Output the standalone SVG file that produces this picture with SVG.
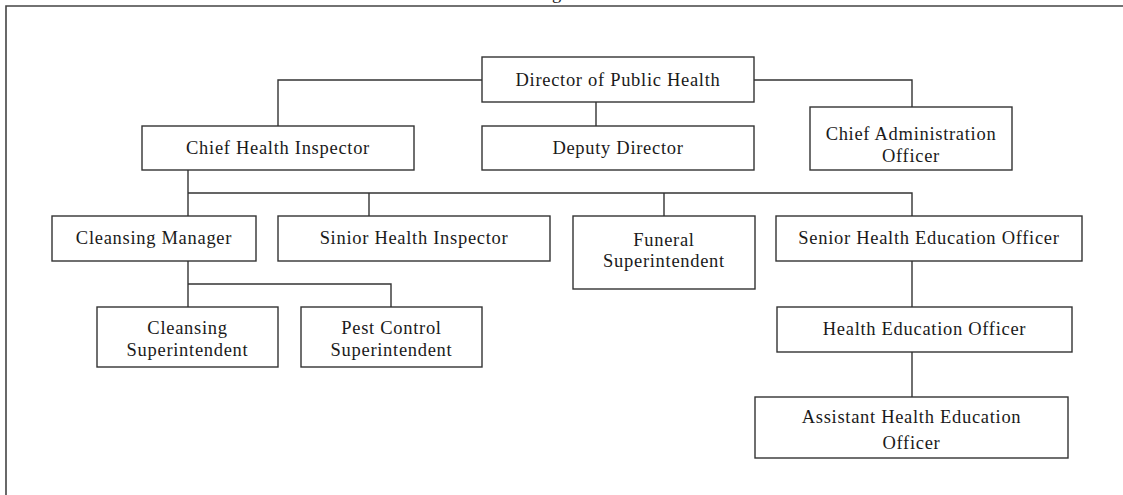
<svg xmlns="http://www.w3.org/2000/svg" width="1123" height="495" viewBox="0 0 1123 495">
  <style>
    .box { fill: #ffffff; stroke: #333333; stroke-width: 1.4; }
    .lbl { font-family: "Liberation Serif", "Times New Roman", serif; font-size: 18.5px; letter-spacing: 0.7px; fill: #1a1a1a; text-anchor: middle; }
    .wire { fill: none; stroke: #333333; stroke-width: 1.4; }
    .frame { fill: none; stroke: #444444; stroke-width: 1.6; }
  </style>
  <rect width="1123" height="495" fill="#ffffff"/>

  <!-- title line, mostly above the page edge -->
  <text class="lbl" x="557" y="-1">g</text>

  <!-- page frame -->
  <path class="frame" d="M6,495 V6 H1123"/>

  <!-- connectors -->
  <g id="connectors">
    <path class="wire" d="M482,80 H278 V126"/>
    <path class="wire" d="M754,80 H912 V107"/>
    <path class="wire" d="M596,102 V126"/>
    <path class="wire" d="M188,170 V216"/>
    <path class="wire" d="M188,193 H912 V216"/>
    <path class="wire" d="M369,193 V216"/>
    <path class="wire" d="M664,193 V216"/>
    <path class="wire" d="M188,261 V307"/>
    <path class="wire" d="M188,284 H391 V307"/>
    <path class="wire" d="M912,261 V307"/>
    <path class="wire" d="M912,352 V397"/>
  </g>

  <g id="director">
    <rect class="box" x="482" y="57" width="272" height="45"/>
    <text class="lbl" x="618" y="86">Director of Public Health</text>
  </g>
  <g id="chief-health-inspector">
    <rect class="box" x="142" y="126" width="272" height="44"/>
    <text class="lbl" x="278" y="154">Chief Health Inspector</text>
  </g>
  <g id="deputy-director">
    <rect class="box" x="482" y="126" width="272" height="44"/>
    <text class="lbl" x="618" y="154">Deputy Director</text>
  </g>
  <g id="chief-administration-officer">
    <rect class="box" x="810" y="107" width="202" height="63"/>
    <text class="lbl" x="911" y="140">Chief Administration</text>
    <text class="lbl" x="911" y="162">Officer</text>
  </g>
  <g id="cleansing-manager">
    <rect class="box" x="52" y="216" width="204" height="45"/>
    <text class="lbl" x="154" y="244">Cleansing Manager</text>
  </g>
  <g id="sinior-health-inspector">
    <rect class="box" x="278" y="216" width="272" height="45"/>
    <text class="lbl" x="414" y="244">Sinior Health Inspector</text>
  </g>
  <g id="funeral-superintendent">
    <rect class="box" x="573" y="216" width="182" height="73"/>
    <text class="lbl" x="664" y="246">Funeral</text>
    <text class="lbl" x="664" y="267">Superintendent</text>
  </g>
  <g id="senior-health-education-officer">
    <rect class="box" x="776" y="216" width="306" height="45"/>
    <text class="lbl" x="929" y="244">Senior Health Education Officer</text>
  </g>
  <g id="cleansing-superintendent">
    <rect class="box" x="97" y="307" width="181" height="60"/>
    <text class="lbl" x="187.5" y="334">Cleansing</text>
    <text class="lbl" x="187.5" y="356">Superintendent</text>
  </g>
  <g id="pest-control-superintendent">
    <rect class="box" x="301" y="307" width="181" height="60"/>
    <text class="lbl" x="391.5" y="334">Pest Control</text>
    <text class="lbl" x="391.5" y="356">Superintendent</text>
  </g>
  <g id="health-education-officer">
    <rect class="box" x="777" y="307" width="295" height="45"/>
    <text class="lbl" x="924.5" y="335">Health Education Officer</text>
  </g>
  <g id="assistant-health-education-officer">
    <rect class="box" x="755" y="397" width="313" height="61"/>
    <text class="lbl" x="911.5" y="423">Assistant Health Education</text>
    <text class="lbl" x="911.5" y="449">Officer</text>
  </g>
</svg>
